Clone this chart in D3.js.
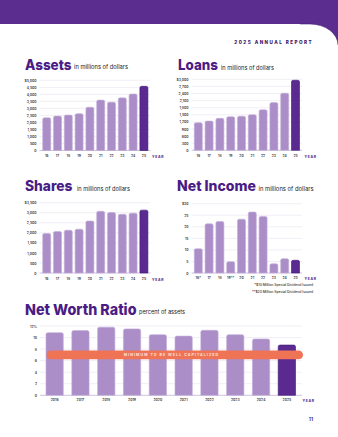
<!DOCTYPE html>
<html>
<head>
<meta charset="utf-8">
<script src="https://cdn.jsdelivr.net/npm/d3@7"></script>
<style>
  html, body { margin: 0; padding: 0; background: #fff; }
  svg { display: block; }
  text { font-family: Inter, "Noto Sans", sans-serif; }
</style>
</head>
<body>
<svg id="page" width="338" height="437"></svg>
<script>
// ---- data ----
const shortYears = ["16", "17", "18", "19", "20", "21", "22", "23", "24", "25"];
const incomeYears = ["16*", "17", "18", "19**", "20", "21", "22", "23", "24", "25"];
const fullYears = ["2016", "2017", "2018", "2019", "2020", "2021", "2022", "2023", "2024", "2025"];

const assets = [2330, 2450, 2520, 2620, 3080, 3590, 3440, 3750, 4020, 4570];
const loans = [1165, 1235, 1350, 1420, 1440, 1505, 1710, 2015, 2415, 2960];
const shares = [1970, 2070, 2130, 2180, 2590, 3070, 3010, 2920, 2980, 3130];
const netIncome = [10.5, 21.3, 22.3, 4.9, 23.3, 26.4, 24.5, 4.0, 6.2, 5.5];
const netWorth = [10.85, 11.2, 11.8, 11.5, 10.5, 10.25, 11.25, 10.5, 9.75, 8.7];

const assetsTicks = [0, 500, 1000, 1500, 2000, 2500, 3000, 3500, 4000, 4500, 5000];
const loansTicks = [0, 300, 600, 900, 1200, 1500, 1800, 2100, 2400, 2700, 3000];
const sharesTicks = [0, 500, 1000, 1500, 2000, 2500, 3000, 3500];
const incomeTicks = [0, 5, 10, 15, 20, 25, 30];
const netWorthTicks = [0, 2, 4, 6, 8, 10, 12];

const wellCapitalized = 7;
const footnotes = ["*$10 Million Special Dividend Issued", "**$20 Million Special Dividend Issued"];

// ---- styles ----
const PURPLE = "#5b2d8e";
const TITLE = "#4a1c85";
const BAR = "#ab8ec8";
const BAR_EDGE = "#c3acda";
const BAR_LAST = "#5a2a91";
const BAR_LAST_EDGE = "#3d1572";
const GRID = "#e8e3ef";

const svg = d3.select("#page");

// header band with rounded corner into the page
svg.append("rect").attr("x", 0).attr("y", 0).attr("width", 338).attr("height", 46).attr("fill", PURPLE);
svg.append("path")
  .attr("d", "M0,24 H310 A28,21 0 0 1 338,45 V437 H0 Z")
  .attr("fill", "#fff");
svg.append("path")
  .attr("d", "M300,24 H310 A28,21 0 0 1 338,45")
  .attr("fill", "none").attr("stroke", "#3f1870").attr("stroke-width", 0.8).attr("opacity", 0.7);

svg.append("text")
  .attr("x", 313).attr("y", 44)
  .attr("text-anchor", "end")
  .attr("font-size", 4.6).attr("font-weight", 800)
  .attr("letter-spacing", 1.45)
  .attr("fill", "#3a1866")
  .text("2025 ANNUAL REPORT");

svg.append("text")
  .attr("x", 313).attr("y", 421)
  .attr("text-anchor", "end")
  .attr("font-size", 5).attr("font-weight", 600)
  .attr("fill", "#3a1866")
  .text("11");

function topRoundedBar(x, y, w, h, r) {
  r = Math.min(r, h, w / 2);
  return `M${x},${y + h} V${y + r} Q${x},${y} ${x + r},${y} H${x + w - r} Q${x + w},${y} ${x + w},${y + r} V${y + h} Z`;
}

function chart(opt) {
  const g = svg.append("g");
  const x = d3.scaleBand().domain(opt.labels).range(opt.xRange).paddingInner(opt.pad).paddingOuter(opt.pad / 2);
  const y = d3.scaleLinear().domain([0, d3.max(opt.ticks)]).range(opt.yRange);

  // gridlines
  g.selectAll("line.grid").data(opt.ticks).join("line")
    .attr("x1", opt.gridX[0]).attr("x2", opt.gridX[1])
    .attr("y1", d => y(d)).attr("y2", d => y(d))
    .attr("stroke", d => d === 0 ? "#b9a9cf" : GRID)
    .attr("stroke-width", d => d === 0 ? 0.7 : 0.6);

  // y axis labels
  const yAxis = d3.axisLeft(y).tickValues(opt.ticks).tickSize(0).tickPadding(0)
    .tickFormat(opt.yFormat);
  const ya = g.append("g").attr("transform", `translate(${opt.gridX[0] - 3},0)`).call(yAxis);
  ya.select(".domain").remove();
  ya.selectAll("text").attr("font-size", 3.4).attr("font-weight", 600).attr("fill", "#333")
    .attr("font-family", "Inter, sans-serif");

  // bars
  const n = opt.values.length;
  g.selectAll("path.bar").data(opt.values).join("path")
    .attr("d", (d, i) => topRoundedBar(x(opt.labels[i]), y(d), x.bandwidth(), y(0) - y(d), opt.radius))
    .attr("fill", (d, i) => i === n - 1 ? BAR_LAST : BAR)
    .attr("stroke", (d, i) => i === n - 1 ? BAR_LAST_EDGE : BAR_EDGE)
    .attr("stroke-width", 0.6);

  // x axis labels
  const xAxis = d3.axisBottom(x).tickSize(0).tickPadding(0);
  const xa = g.append("g").attr("transform", `translate(0,${opt.xLabelY})`).call(xAxis);
  xa.select(".domain").remove();
  xa.selectAll("text").attr("font-size", 3.4).attr("font-weight", 600).attr("fill", "#333")
    .attr("font-family", "Inter, sans-serif");

  g.append("text")
    .attr("x", opt.yearX).attr("y", opt.xLabelY + 3.3)
    .attr("font-size", 3.4).attr("font-weight", 800).attr("letter-spacing", 0.7)
    .attr("fill", PURPLE)
    .text("YEAR");

  // title + subtitle
  g.append("text")
    .attr("x", opt.titleX).attr("y", opt.titleY)
    .attr("font-size", opt.titleSize).attr("font-weight", 800)
    .attr("fill", TITLE)
    .attr("textLength", opt.titleW).attr("lengthAdjust", "spacingAndGlyphs")
    .text(opt.title);
  g.append("text")
    .attr("x", opt.subX).attr("y", opt.titleY - 0.5)
    .attr("font-size", 5.6).attr("font-weight", 400)
    .attr("fill", "#222")
    .attr("textLength", opt.subW).attr("lengthAdjust", "spacingAndGlyphs")
    .text(opt.subtitle);

  return { g, x, y };
}

const dollarFmt = (d, i, arr) => (i === arr.length - 1 ? "$" : "") + d3.format(",")(d);

chart({
  title: "Assets", subtitle: "in millions of dollars",
  titleX: 25, titleY: 69.5, titleSize: 14, titleW: 46.5, subX: 74, subW: 54,
  labels: shortYears, values: assets, ticks: assetsTicks, yFormat: dollarFmt,
  xRange: [41.3, 149.3], pad: 0.26, gridX: [39.5, 150.5], yRange: [150.5, 80.3],
  xLabelY: 154.5, yearX: 152, radius: 1.6
});

chart({
  title: "Loans", subtitle: "in millions of dollars",
  titleX: 178, titleY: 70, titleSize: 14, titleW: 40, subX: 221, subW: 53,
  labels: shortYears, values: loans, ticks: loansTicks, yFormat: dollarFmt,
  xRange: [192.9, 300.9], pad: 0.26, gridX: [191.5, 302], yRange: [150.3, 79.3],
  xLabelY: 154.5, yearX: 304.5, radius: 1.6
});

chart({
  title: "Shares", subtitle: "in millions of dollars",
  titleX: 25, titleY: 191, titleSize: 14, titleW: 47.5, subX: 77, subW: 53,
  labels: shortYears, values: shares, ticks: sharesTicks, yFormat: dollarFmt,
  xRange: [41.3, 149.3], pad: 0.26, gridX: [39.5, 150.5], yRange: [273, 202.7],
  xLabelY: 277.5, yearX: 152, radius: 1.6
});

const income = chart({
  title: "Net Income", subtitle: "in millions of dollars",
  titleX: 177, titleY: 191, titleSize: 14, titleW: 79, subX: 258.5, subW: 55,
  labels: incomeYears, values: netIncome, ticks: incomeTicks, yFormat: dollarFmt,
  xRange: [192.9, 300.9], pad: 0.26, gridX: [191.5, 302], yRange: [273, 203.7],
  xLabelY: 277, yearX: 304.5, radius: 1.6
});

footnotes.forEach((t, i) => {
  income.g.append("text")
    .attr("x", 313).attr("y", 285.5 + i * 7.3)
    .attr("text-anchor", "end")
    .attr("font-size", 3.4).attr("font-weight", 500)
    .attr("fill", "#333")
    .text(t);
});

const nw = chart({
  title: "Net Worth Ratio", subtitle: "percent of assets",
  titleX: 25, titleY: 314.5, titleSize: 15, titleW: 111.5, subX: 139, subW: 46,
  labels: fullYears, values: netWorth, ticks: netWorthTicks,
  yFormat: (d, i, arr) => d3.format(",")(d) + (i === arr.length - 1 ? "%" : ""),
  xRange: [41.75, 299.75], pad: 0.33, gridX: [40, 302], yRange: [395.3, 326],
  xLabelY: 399, yearX: 302.5, radius: 1.8
});

// well-capitalized threshold band
const yMin = nw.y(wellCapitalized);
nw.g.append("rect")
  .attr("x", 46.5).attr("y", yMin - 4.4)
  .attr("width", 256.5).attr("height", 8.8)
  .attr("rx", 4.4)
  .attr("fill", "#ef7456");
nw.g.append("text")
  .attr("x", 171.5).attr("y", yMin + 1.3)
  .attr("text-anchor", "middle")
  .attr("font-size", 3.6).attr("font-weight", 700)
  .attr("letter-spacing", 1.05)
  .attr("fill", "#fde3d9")
  .text("MINIMUM TO BE WELL CAPITALIZED");
</script>
</body>
</html>
